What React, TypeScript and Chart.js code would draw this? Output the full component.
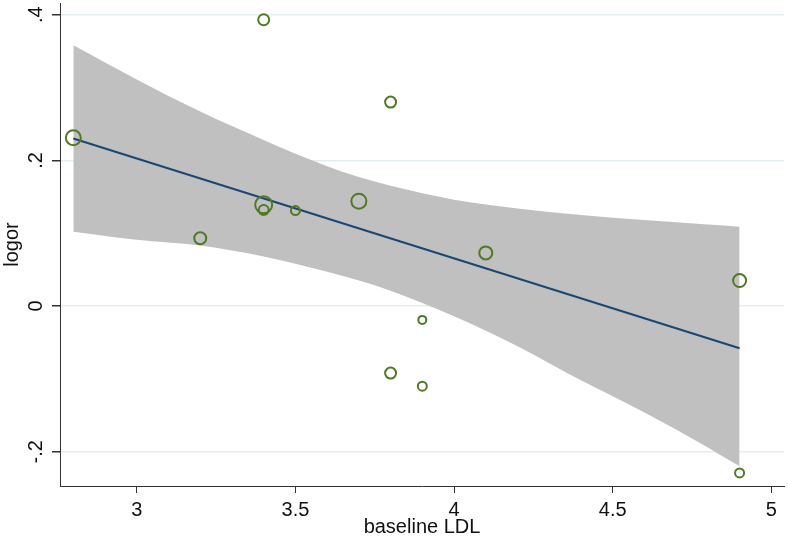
import React, { useEffect, useRef } from 'react';
import { Chart, registerables } from 'chart.js';

Chart.register(...registerables);

// Scatter data: baseline LDL vs logor, marker radius reflects study weight
const ldl = [2.8, 3.4, 3.8, 3.4, 3.4, 3.5, 3.2, 3.7, 4.1, 4.9, 3.9, 3.8, 3.9, 4.9];
const logor = [0.231, 0.393, 0.28, 0.139, 0.132, 0.131, 0.093, 0.144, 0.073, 0.035, -0.019, -0.092, -0.11, -0.229];
const markerRadius = [7.5, 5.5, 5.5, 8.5, 5, 4.5, 6, 7.5, 6.5, 6.5, 4, 5.5, 4.5, 4.5];

// Fitted line
const fitX = [2.8, 4.9];
const fitY = [0.23, -0.058];

// Confidence band
const bandX = [2.8, 3.0, 3.2, 3.4, 3.5, 3.6, 3.7, 3.8, 4.0, 4.2, 4.4, 4.6, 4.8, 4.9];
const bandUpper = [0.358, 0.311, 0.267, 0.228, 0.209, 0.192, 0.177, 0.165, 0.146, 0.134, 0.125, 0.118, 0.112, 0.109];
const bandLower = [0.102, 0.091, 0.083, 0.068, 0.058, 0.047, 0.035, 0.021, -0.014, -0.055, -0.102, -0.146, -0.194, -0.22];

// Axis ticks
const xTicks = [3, 3.5, 4, 4.5, 5];
const xTickLabels = ['3', '3.5', '4', '4.5', '5'];
const yTicks = [-0.2, 0, 0.2, 0.4];
const yTickLabels = ['-.2', '0', '.2', '.4'];

const FONT = "'Liberation Sans', Arial, sans-serif";

// Plot frame (Stata-like fixed margins)
const PLOT = { left: 60, top: 3, right: 784, bottom: 486 };

const fixedFrame = {
  id: 'fixedFrame',
  afterLayout(chart: any) {
    const W = chart.width;
    const H = chart.height;
    const a = chart.chartArea;
    a.left = PLOT.left;
    a.top = PLOT.top;
    a.right = PLOT.right;
    a.bottom = PLOT.bottom;
    a.width = PLOT.right - PLOT.left;
    a.height = PLOT.bottom - PLOT.top;
    const x = chart.scales.x;
    const y = chart.scales.y;
    x.left = PLOT.left;
    x.right = PLOT.right;
    x.width = PLOT.right - PLOT.left;
    x.top = PLOT.bottom;
    x.bottom = H;
    x.height = H - PLOT.bottom;
    y.left = 0;
    y.right = PLOT.left;
    y.width = PLOT.left;
    y.top = PLOT.top;
    y.bottom = PLOT.bottom;
    y.height = PLOT.bottom - PLOT.top;
    x.configure();
    y.configure();
    void W;
  },
};

export default function App() {
  const ref = useRef<HTMLCanvasElement | null>(null);

  useEffect(() => {
    const canvas = ref.current;
    if (!canvas) return;
    const chart = new Chart(canvas, {
      type: 'scatter',
      plugins: [fixedFrame],
      data: {
        datasets: [
          {
            type: 'scatter',
            label: 'logor',
            data: ldl.map((x, i) => ({ x, y: logor[i] })),
            pointStyle: 'circle',
            pointRadius: markerRadius,
            pointHoverRadius: markerRadius,
            pointBackgroundColor: 'rgba(0,0,0,0)',
            pointBorderColor: '#4f7a24',
            pointBorderWidth: 2,
            showLine: false,
          } as any,
          {
            type: 'line',
            label: 'Fitted values',
            data: fitX.map((x, i) => ({ x, y: fitY[i] })),
            borderColor: '#1a476f',
            borderWidth: 2,
            pointRadius: 0,
            fill: false,
            tension: 0,
          },
          {
            type: 'line',
            label: '95% CI upper',
            data: bandX.map((x, i) => ({ x, y: bandUpper[i] })),
            borderWidth: 0,
            borderColor: 'rgba(0,0,0,0)',
            backgroundColor: '#c0c0c0',
            pointRadius: 0,
            fill: '+1',
            cubicInterpolationMode: 'monotone',
          },
          {
            type: 'line',
            label: '95% CI lower',
            data: bandX.map((x, i) => ({ x, y: bandLower[i] })),
            borderWidth: 0,
            borderColor: 'rgba(0,0,0,0)',
            backgroundColor: '#c0c0c0',
            pointRadius: 0,
            fill: false,
            cubicInterpolationMode: 'monotone',
          },
        ],
      },
      options: {
        animation: false,
        responsive: false,
        devicePixelRatio: 1,
        layout: { padding: { top: 3, right: 4, left: 0, bottom: 0 } },
        plugins: {
          legend: { display: false },
          tooltip: { enabled: false },
        },
        scales: {
          x: {
            type: 'linear',
            min: 2.758,
            max: 5.04,
            afterBuildTicks: (s: any) => {
              s.ticks = xTicks.map((v) => ({ value: v }));
            },
            ticks: {
              callback: (_v: any, i: number) => xTickLabels[i],
              font: { family: FONT, size: 20 },
              color: '#111',
              padding: 5,
              maxRotation: 0,
              minRotation: 0,
            },
            grid: {
              drawOnChartArea: false,
              drawTicks: true,
              tickLength: 7,
              tickColor: '#333',
            },
            border: { color: '#333', width: 1 },
            title: {
              display: true,
              text: 'baseline LDL',
              font: { family: FONT, size: 20 },
              color: '#111',
              padding: { top: 0, bottom: 0 },
            },
          },
          y: {
            type: 'linear',
            min: -0.247,
            max: 0.416,
            afterBuildTicks: (s: any) => {
              s.ticks = yTicks.map((v) => ({ value: v }));
            },
            ticks: {
              callback: (_v: any, i: number) => yTickLabels[i],
              font: { family: FONT, size: 20 },
              color: '#111',
              padding: 4,
              minRotation: 90,
              maxRotation: 90,
              crossAlign: 'center',
              align: 'center',
            },
            grid: {
              color: '#e3edef',
              lineWidth: 1.5,
              drawTicks: true,
              tickLength: 8,
              tickColor: '#333',
            },
            border: { color: '#333', width: 1 },
            title: {
              display: true,
              text: 'logor',
              font: { family: FONT, size: 20 },
              color: '#111',
              padding: { top: 0, bottom: 0 },
            },
          },
        },
      },
    });
    return () => chart.destroy();
  }, []);

  return (
    <div style={{ position: 'absolute', left: 0, top: 0, width: 788, height: 539, background: '#fff' }}>
      <canvas ref={ref} width={788} height={539} style={{ width: 788, height: 539, display: 'block' }} />
    </div>
  );
}
